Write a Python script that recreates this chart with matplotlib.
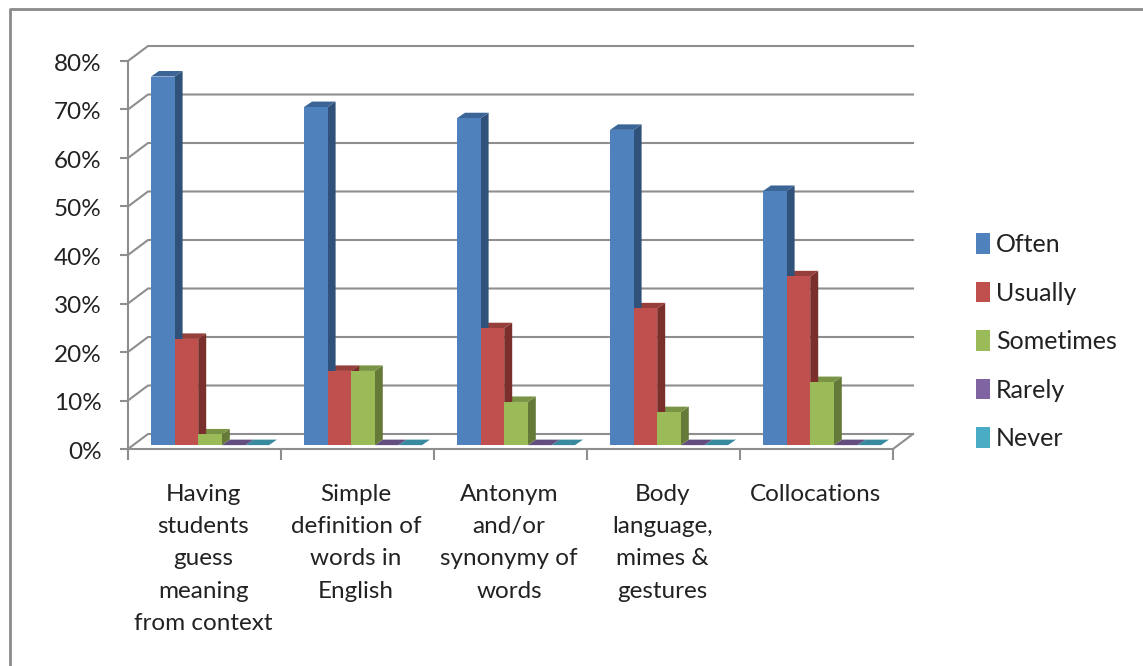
import matplotlib
matplotlib.use('Agg')
import matplotlib.pyplot as plt
from matplotlib.patches import Polygon, Patch
from matplotlib.lines import Line2D
from matplotlib.transforms import ScaledTranslation

categories = ['Having\nstudents\nguess\nmeaning\nfrom context',
              'Simple\ndefinition of\nwords in\nEnglish',
              'Antonym\nand/or\nsynonymy of\nwords',
              'Body\nlanguage,\nmimes &\ngestures',
              'Collocations']
often = [76.0, 69.7, 67.4, 65.0, 52.4]
usually = [21.9, 15.3, 24.1, 28.2, 34.8]
sometimes = [2.2, 15.3, 8.9, 6.8, 13.0]
rarely = [0, 0, 0, 0, 0]
never = [0, 0, 0, 0, 0]
series_names = ['Often', 'Usually', 'Sometimes', 'Rarely', 'Never']
yticks = [0, 10, 20, 30, 40, 50, 60, 70, 80]

W, H = 1143, 666
front = ['#4f81bd', '#c0504d', '#9bbb59', '#8064a2', '#4bacc6']
top = ['#3a6596', '#963e3b', '#7a9446', '#644e80', '#3a8a9f']
side = ['#30527a', '#7a2f2d', '#657a38', '#523f69', '#2f7082']
grey = '#8e8e8e'
plt.rcParams['font.family'] = ['Lato', 'DejaVu Sans']

fig = plt.figure(figsize=(W / 100, H / 100), dpi=100)
ax = fig.add_axes([128 / W, 1 - 449 / H, (893 - 128) / W, (449 - 61) / H])
ax.set_xlim(0, 5)
ax.set_ylim(0, 80)
ax.patch.set_visible(False)
for s in ax.spines.values():
    s.set_visible(False)

# depth of the back wall and of each bar, in data units
wall_dx, wall_dy = 20 / 153, 15 / 48.5 * 10
bar_dx, bar_dy = 8 / 153, 5.5 / 48.5 * 10
floor_y = 0.8
bar_w = 23.6 / 153
bar_start = 23 / 153

# gridlines run along the back wall and down to the front axis
for v in yticks:
    ax.plot([0, wall_dx, 5 + wall_dx], [v, v + wall_dy, v + wall_dy], color=grey, lw=1.5, clip_on=False, zorder=1)
ax.plot([0, 5, 5 + wall_dx], [0, 0, wall_dy], color=grey, lw=1.5, clip_on=False, zorder=1)
ax.plot([0, 0], [0, 80], color=grey, lw=1.5, clip_on=False, zorder=1)

ax.set_yticks(yticks)
ax.set_yticklabels(['%d%%' % v for v in yticks], fontsize=17.5, color='#222222')
ax.tick_params(axis='y', length=6, width=1.5, color=grey, pad=13)
for lab in ax.get_yticklabels():
    lab.set_transform(lab.get_transform() + ScaledTranslation(0, -1 / 72, fig.dpi_scale_trans))
ax.set_xticks(range(6))
ax.set_xticklabels([])
ax.tick_params(axis='x', length=8, width=1.5, color=grey)

for i, cat in enumerate(categories):
    ax.annotate(cat, (i + 0.5, 0), xytext=(-1, -25), textcoords='offset points', ha='center', va='top',
                fontsize=17.5, color='#222222', linespacing=1.667, annotation_clip=False)

all_series = [often, usually, sometimes, rarely, never]
# later series first so that the side faces sit behind their left neighbour
for j in range(4, -1, -1):
    vals = all_series[j]
    for i, v in enumerate(vals):
        x0 = i + bar_start + j * bar_w
        x1 = x0 + bar_w
        y0 = floor_y
        y1 = floor_y + v
        ax.add_patch(Polygon([(x1, y0), (x1 + bar_dx, y0 + bar_dy), (x1 + bar_dx, y1 + bar_dy), (x1, y1)],
                             fc=side[j], ec='none', clip_on=False, zorder=3))
        ax.add_patch(Polygon([(x0, y1), (x0 + bar_dx, y1 + bar_dy), (x1 + bar_dx, y1 + bar_dy), (x1, y1)],
                             fc=top[j], ec='none', clip_on=False, zorder=3))
    ax.bar([i + bar_start + j * bar_w for i in range(5)], vals, bar_w, bottom=floor_y, align='edge',
           color=front[j], clip_on=False, zorder=4)

handles = [Patch(fc=front[j], ec='none', label=series_names[j]) for j in range(5)]
fig.legend(handles=handles, loc='upper left', bbox_to_anchor=(976 / W, 1 - 233 / H), frameon=False,
           fontsize=18, handlelength=0.56, handleheight=0.9, handletextpad=0.24, labelspacing=1.02,
           labelcolor='#222222', borderpad=0, borderaxespad=0)

# outer chart border, open on the right
fig.add_artist(Line2D([10 / W, 10 / W, 1], [0, 1 - 9 / H, 1 - 9 / H], color='#8a8a8a', lw=2))

fig.savefig('out.png', dpi=100)
